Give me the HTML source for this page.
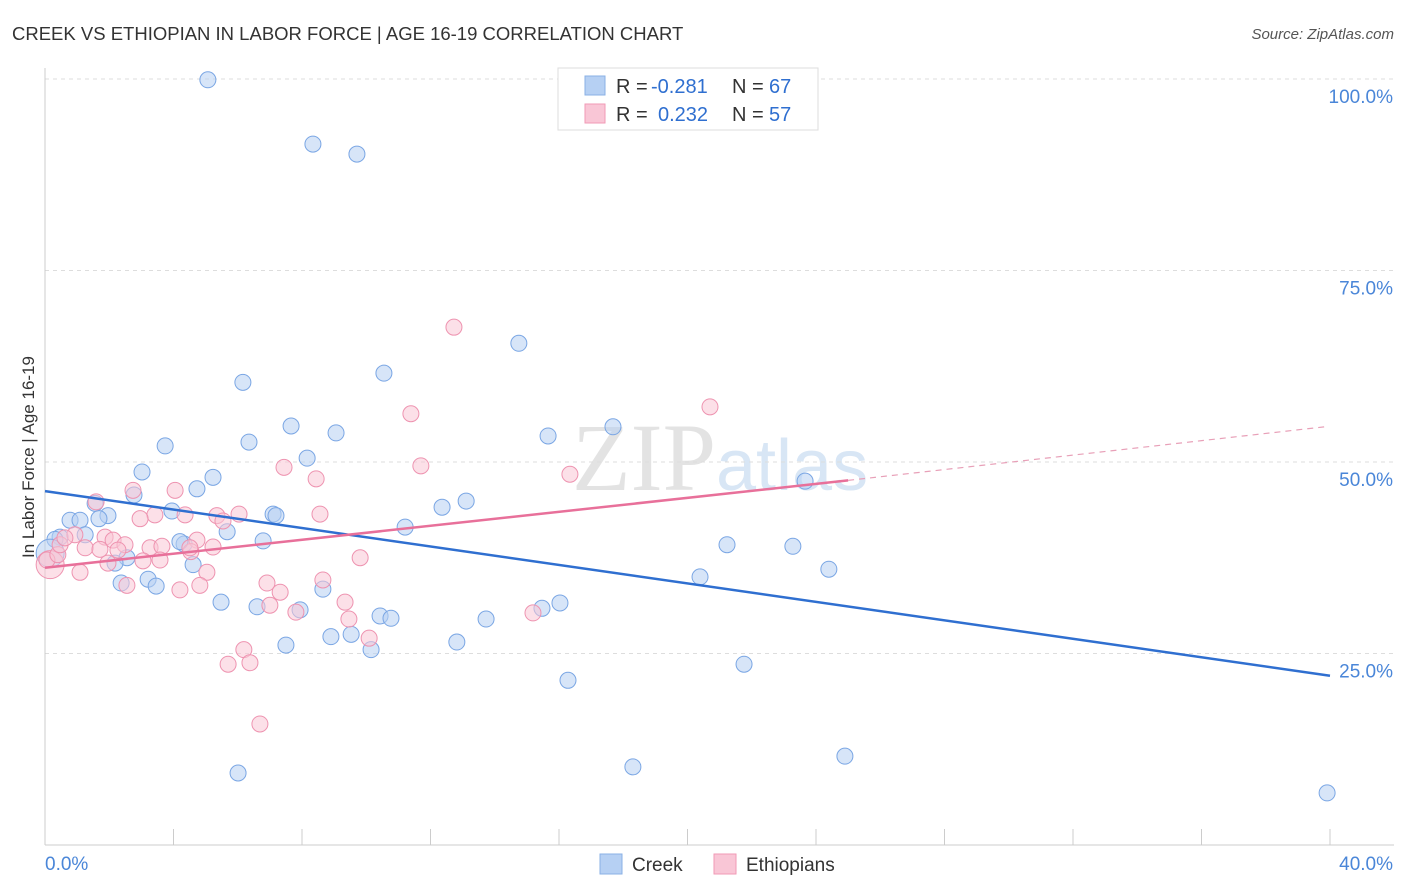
<!DOCTYPE html>
<html><head><meta charset="utf-8"><style>
body{margin:0;background:#fff;font-family:"Liberation Sans",sans-serif}
svg{display:block}
</style></head><body>
<svg width="1406" height="892" viewBox="0 0 1406 892">
<text x="12" y="40" font-size="18.5" fill="#333">CREEK VS ETHIOPIAN IN LABOR FORCE | AGE 16-19 CORRELATION CHART</text>
<text x="1394" y="39" font-size="15" fill="#555" font-style="italic" text-anchor="end">Source: ZipAtlas.com</text>
<text x="716" y="490" font-size="96" fill="#e3e3e3" font-family="Liberation Serif" text-anchor="end">ZIP</text>
<text x="716" y="490" font-size="72" fill="#d8e6f5">atlas</text>
<g id="grid"></g>
<g id="marks"></g>
<text x="34" y="457" font-size="17" fill="#333" transform="rotate(-90 34 457)" text-anchor="middle">In Labor Force | Age 16-19</text>
<rect x="558" y="68" width="260" height="62" fill="#fff" stroke="#ddd"/>
<rect x="585" y="76" width="20" height="19" fill="#b6d0f3" stroke="#8ab0e6"/>
<rect x="585" y="104" width="20" height="19" fill="#f9c6d6" stroke="#f19ab6"/>
<g font-size="20">
<text x="616" y="93" fill="#333">R =</text><text x="651" y="93" fill="#2f6fd0">-0.281</text>
<text x="732" y="93" fill="#333">N =</text><text x="769" y="93" fill="#2f6fd0">67</text>
<text x="616" y="121" fill="#333">R =</text><text x="658" y="121" fill="#2f6fd0">0.232</text>
<text x="732" y="121" fill="#333">N =</text><text x="769" y="121" fill="#2f6fd0">57</text>
</g>
<rect x="600" y="854" width="22" height="20" fill="#b6d0f3" stroke="#8ab0e6"/>
<text x="632" y="871" font-size="19" fill="#333">Creek</text>
<rect x="714" y="854" width="22" height="20" fill="#f9c6d6" stroke="#f19ab6"/>
<text x="746" y="871" font-size="19" fill="#333">Ethiopians</text>
</svg>
<script>
const creekX=[5.07,8.34,9.71,14.75,10.55,6.16,17.68,15.66,7.66,9.06,6.35,3.74,8.16,3.02,5.23,4.73,2.77,1.56,23.66,13.11,12.36,1.96,0.78,1.09,1.68,3.95,7.10,7.19,11.21,5.67,0.47,0.31,6.79,4.33,4.20,21.23,23.28,1.25,2.55,2.18,4.61,24.40,20.39,3.21,2.37,3.46,5.48,6.60,7.94,16.03,15.47,10.43,10.77,13.73,8.65,8.90,9.53,7.50,12.82,10.15,21.76,16.28,6.01,18.30,24.90,39.91,0.16];
const creekY=[99.9,91.5,90.2,65.5,61.6,60.4,54.6,53.4,54.7,53.8,52.6,52.1,50.5,48.7,48.0,46.5,45.7,44.6,47.5,44.9,44.1,43.0,42.4,42.4,42.6,43.6,43.2,43.0,41.5,40.9,40.2,39.9,39.7,39.3,39.6,39.2,39.0,40.5,37.5,36.8,36.6,36.0,35.0,34.7,34.2,33.8,31.7,31.1,30.7,31.6,30.9,29.9,29.6,29.5,33.4,27.2,27.5,26.1,26.5,25.5,23.6,21.5,9.4,10.2,11.6,6.8,38.1];
const ethX=[12.73,20.70,11.39,11.70,7.44,8.44,16.34,2.74,4.05,1.59,8.56,3.42,4.36,5.35,6.04,5.54,2.96,0.93,1.87,2.12,2.49,1.25,1.71,2.27,3.27,3.64,4.73,5.23,4.54,9.81,3.05,3.58,1.96,1.09,5.04,2.55,4.20,4.82,6.91,8.65,7.32,9.34,7.00,7.81,9.46,15.19,10.09,6.19,5.70,6.38,6.69,0.16,0.06,0.40,0.47,4.51,0.62];
const ethY=[67.6,57.2,56.3,49.5,49.3,47.8,48.4,46.3,46.3,44.8,43.2,43.1,43.1,43.0,43.2,42.3,42.6,40.5,40.2,39.8,39.2,38.8,38.6,38.5,38.8,39.0,39.8,38.9,38.3,37.5,37.1,37.2,36.8,35.6,35.6,33.9,33.3,33.9,34.2,34.6,33.0,31.7,31.3,30.4,29.5,30.3,27.0,25.5,23.6,23.8,15.8,36.6,37.2,37.9,39.2,38.8,40.1];
const creekTrend=[[0,46.2],[40,22.1]];
const ethTrendSolid=[[0,36.2],[25,47.6]];
const ethTrendDash=[[25,47.6],[39.85,54.6]];
const yTicks=[100,75,50,25];
const xTickLabels=["0.0%","40.0%"];
const NS="http://www.w3.org/2000/svg";
const X=v=>45+v/40*1285, Y=v=>845-v*7.66;
function mk(p,t,a){const e=document.createElementNS(NS,t);for(const k in a)e.setAttribute(k,a[k]);p.appendChild(e);return e;}
const g=document.getElementById('grid'), m=document.getElementById('marks');
yTicks.forEach(t=>{
 const l=mk(g,'line',{x1:45,x2:1394,y1:Y(t),y2:Y(t),stroke:'#ddd','stroke-dasharray':'4 4'});
 
 
 const tx=mk(g,'text',{x:1393,y:Y(t)+24,'font-size':19,fill:'#4a86d8','text-anchor':'end'});tx.textContent=t.toFixed(1)+'%';
 
 
});
const ax=mk(g,'line',{x1:45,x2:45,y1:68,y2:845,stroke:'#ccc'});


const bx=mk(g,'line',{x1:45,x2:1394,y1:845,y2:845,stroke:'#ccc'});


for(let i=0;i<=10;i++){const t=mk(g,'line',{x1:X(i*4),x2:X(i*4),y1:829,y2:845,stroke:'#ccc'});
 
 }
[[0,'start',45],[40,'end',1393]].forEach((d,i)=>{const t=mk(g,'text',{x:d[2],y:870,'font-size':19,fill:'#4a86d8','text-anchor':d[1]});t.textContent=xTickLabels[i];
 
 });
function pts(xs,ys,fill,stroke,name,bigIdx){xs.forEach((x,i)=>{const big=i===bigIdx;
 const c=mk(m,'circle',{cx:X(x),cy:Y(ys[i]),r:big?14:8,fill:fill,'fill-opacity':0.55,stroke:stroke,'stroke-width':1});
 
 });}
pts(creekX,creekY,'#b6d0f3','#7aa6e4','creek-point',66);
pts(ethX,ethY,'#f9c6d6','#ee93b0','ethiopian-point',51);
function ln(a,col,w,dash,name){const l=mk(m,'line',{x1:X(a[0][0]),y1:Y(a[0][1]),x2:X(a[1][0]),y2:Y(a[1][1]),stroke:col,'stroke-width':w});if(dash)l.setAttribute('stroke-dasharray',dash);
 
 }
ln(creekTrend,'#2f6fd0',2.5,null,'creek-trend-line');
ln(ethTrendSolid,'#e8709a',2.5,null,'ethiopian-trend-line');
ln(ethTrendDash,'#e8a0b8',1.2,'6 5','ethiopian-trend-extension');
</script>
</body></html>
